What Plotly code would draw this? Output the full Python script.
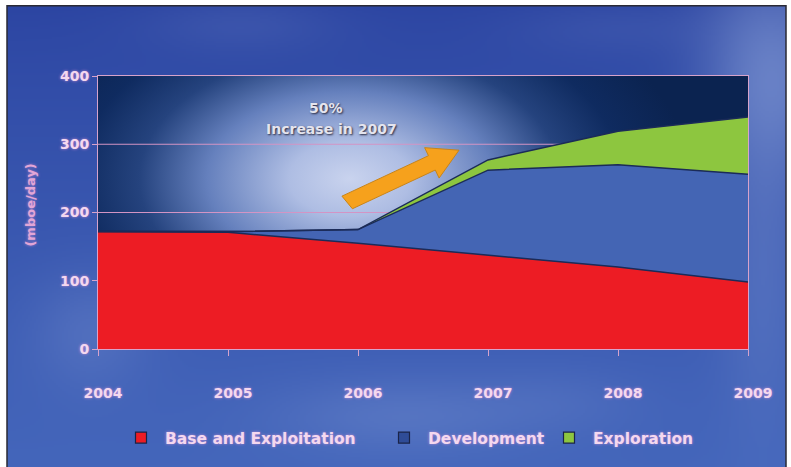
import base64
import struct
import zlib

import numpy as np
import plotly.graph_objects as go

# ---- data (mboe/day) ----
years = [2004, 2005, 2006, 2007, 2008, 2009]
year_labels = ["2004", "2005", "2006", "2007", "2008", "2009"]
base_exploitation = [172, 171, 155, 138, 120, 98]
development = [0, 1, 20, 124, 150, 158]
exploration = [0, 0, 0, 15, 49, 84]
y_ticks = [0, 100, 200, 300, 400]

series_names = ["Base and Exploitation", "Development", "Exploration"]
series_colors = ["#ed1c24", "#4465b4", "#8dc63f"]
swatch_colors = ["#ed1c24", "#2f4c97", "#8dc63f"]

W, H = 791, 467
ML, MR, MT, MB = 98, 43, 76, 115
PW, PH = W - ML - MR, H - MT - MB
X_RANGE = [2004, 2009]
Y_RANGE = [0, 400]


def px_to_paper(px, py):
    return (px - ML) / PW, (H - MB - py) / PH


# ---- slide background (blue sky with soft clouds) as a small PNG ----
def make_png(rgb):
    h, w, _ = rgb.shape
    raw = b"".join(b"\x00" + rgb[r].tobytes() for r in range(h))

    def chunk(tag, data):
        c = struct.pack(">I", len(data)) + tag + data
        return c + struct.pack(">I", zlib.crc32(tag + data) & 0xFFFFFFFF)

    png = b"\x89PNG\r\n\x1a\n"
    png += chunk(b"IHDR", struct.pack(">IIBBBBB", w, h, 8, 2, 0, 0, 0))
    png += chunk(b"IDAT", zlib.compress(raw, 9))
    png += chunk(b"IEND", b"")
    return "data:image/png;base64," + base64.b64encode(png).decode()


bx0, by0, bx1, by1 = 7, 5, 787, 467
iw, ih = 390, 231
gy, gx = np.mgrid[0:ih, 0:iw].astype(float)
X = bx0 + gx * (bx1 - bx0) / (iw - 1)
Y = by0 + gy * (by1 - by0) / (ih - 1)
top = np.array([0x2c, 0x45, 0xa2], float)
bottom = np.array([0x44, 0x66, 0xbb], float)
t = ((Y - by0) / (by1 - by0))[..., None] ** 0.8
img = top + (bottom - top) * t
cloud = np.array([0x9a, 0xb0, 0xe2], float)
for cx, cy, rx, ry, s in [
    (775, 70, 70, 110, 0.5),
    (765, 260, 45, 160, 0.22),
    (400, 415, 130, 40, 0.22),
    (90, 330, 60, 60, 0.2),
    (240, 22, 100, 30, 0.12),
    (620, 25, 110, 30, 0.1),
    (560, 400, 90, 35, 0.1),
]:
    a = (s * np.exp(-((X - cx) / rx) ** 2 - ((Y - cy) / ry) ** 2))[..., None]
    img = img * (1 - a) + cloud * a
bg_uri = make_png(np.clip(img, 0, 255).astype(np.uint8))

grid_color = "#d394c4"
axis_line = "#d7a3cb"

fig = go.Figure()

# dark navy backdrop across the whole plotting area
fig.add_trace(go.Scatter(
    x=[X_RANGE[0], X_RANGE[1], X_RANGE[1], X_RANGE[0], X_RANGE[0]],
    y=[Y_RANGE[0], Y_RANGE[0], Y_RANGE[1], Y_RANGE[1], Y_RANGE[0]],
    mode="none", fill="toself", fillcolor="#0b2350",
    hoverinfo="skip", showlegend=False,
))

# glow: radial gradient centred left of the middle
gcx, gcy, grx, gry = 350, 180, 340, 210
gx0, gy0 = 2004 + (gcx - grx - ML) / PW * 5, (H - MB - (gcy + gry)) / PH * 400
gx1, gy1 = 2004 + (gcx + grx - ML) / PW * 5, (H - MB - (gcy - gry)) / PH * 400
fig.add_trace(go.Scatter(
    x=[gx0, gx1, gx1, gx0, gx0], y=[gy0, gy0, gy1, gy1, gy0],
    mode="none", fill="toself",
    fillgradient=dict(
        type="radial",
        colorscale=[[0, "#c9d3ee"], [0.18, "#aebde3"], [0.42, "#6580bd"],
                    [0.62, "#25437e"], [0.8, "#0f2b60"], [1, "#0b2350"]],
    ),
    hoverinfo="skip", showlegend=False,
))

# horizontal gridlines on top of the glow, beneath the data areas
for yv in y_ticks[1:-1]:
    fig.add_trace(go.Scatter(
        x=X_RANGE, y=[yv, yv], mode="lines",
        line=dict(color=grid_color, width=1),
        hoverinfo="skip", showlegend=False,
    ))

# stacked areas
for name, vals, col in zip(series_names, [base_exploitation, development, exploration], series_colors):
    fig.add_trace(go.Scatter(
        x=years, y=vals, name=name, stackgroup="one", mode="lines",
        line=dict(color="#1b2b58", width=1.5), fillcolor=col,
        showlegend=False, hoverinfo="skip",
    ))

# legend entries, each in its own legend box
legend_x = [117, 380, 545]
for i, (name, col) in enumerate(zip(series_names, swatch_colors)):
    fig.add_trace(go.Scatter(
        x=[None], y=[None], mode="markers", name=name,
        marker=dict(symbol="square", size=11, color=col, line=dict(color="#1a2448", width=1.2)),
        legend="legend" if i == 0 else f"legend{i + 1}",
    ))

label_color = "#f4d8ef"
tick_font = dict(family="DejaVu Sans", size=14, color=label_color, weight="bold",
                 shadow="0px 0px 3px rgba(255,160,230,0.7)")

legend_common = dict(
    orientation="h", yanchor="middle", y=px_to_paper(0, 442)[1], xanchor="left",
    bgcolor="rgba(0,0,0,0)", itemwidth=38,
    font=dict(family="DejaVu Sans", size=15.5, color=label_color, weight="bold",
              shadow="0px 0px 3px rgba(255,160,230,0.6)"),
)
legends = {}
for i, lx in enumerate(legend_x):
    key = "legend" if i == 0 else f"legend{i + 1}"
    legends[key] = dict(legend_common, x=px_to_paper(lx, 0)[0])

# block arrow
tx, ty, hx, hy = 349, 203, 459, 151
L = np.hypot(hx - tx, hy - ty)
ux, uy = (hx - tx) / L, (hy - ty) / L
nx, ny = -uy, ux
bxh, byh = hx - ux * 30, hy - uy * 30
pts = [
    (tx + nx * 8, ty + ny * 8), (bxh + nx * 8, byh + ny * 8), (bxh + nx * 17, byh + ny * 17),
    (hx, hy), (bxh - nx * 17, byh - ny * 17), (bxh - nx * 8, byh - ny * 8),
    (tx - nx * 8 - ux * 4, ty - ny * 8 - uy * 4),
]
path = "M " + " L ".join(f"{px_to_paper(a, b)[0]:.4f},{px_to_paper(a, b)[1]:.4f}" for a, b in pts) + " Z"

fx0, fy1 = px_to_paper(bx0, by0)
fx1, fy0 = px_to_paper(bx1 - 1, H + 5)

note_font = dict(family="DejaVu Sans", size=14, color="#e4e4ee", weight="bold",
                 shadow="1px 1px 2px #2a2a40")

fig.update_layout(
    width=W, height=H, autosize=False,
    margin=dict(l=ML, r=MR, t=MT, b=MB, pad=0),
    paper_bgcolor="#ffffff", plot_bgcolor="#0b2350",
    images=[dict(source=bg_uri, xref="paper", yref="paper", x=fx0, y=fy1,
                 sizex=fx1 - fx0, sizey=fy1 - fy0, xanchor="left", yanchor="top",
                 sizing="stretch", layer="below")],
    shapes=[
        dict(type="rect", xref="paper", yref="paper", x0=fx0, x1=fx1, y0=fy0, y1=fy1,
             line=dict(color="#2a2a35", width=1.5), fillcolor="rgba(0,0,0,0)", layer="below"),
        dict(type="path", path=path, xref="paper", yref="paper",
             fillcolor="#f6a11c", line=dict(color="#c98419", width=1), layer="above"),
    ],
    annotations=[
        dict(text="50%", xref="paper", yref="paper", xanchor="center", yanchor="middle",
             x=px_to_paper(326, 0)[0], y=px_to_paper(0, 108)[1], showarrow=False,
             font=note_font),
        dict(text="Increase in 2007", xref="paper", yref="paper", xanchor="center", yanchor="middle",
             x=px_to_paper(331, 0)[0], y=px_to_paper(0, 130)[1], showarrow=False,
             font=note_font),
        dict(text="(mboe/day)", xref="paper", yref="paper", textangle=-90,
             xanchor="center", yanchor="middle",
             x=px_to_paper(31, 0)[0], y=px_to_paper(0, 207)[1], showarrow=False,
             font=dict(family="DejaVu Sans", size=13, color="#e2a6d6", weight="bold",
                       shadow="0px 0px 3px rgba(255,160,230,0.6)")),
    ],
    xaxis=dict(
        range=X_RANGE, tickvals=years, ticktext=year_labels,
        showgrid=False, zeroline=False, showline=True, mirror=True,
        linecolor=axis_line, linewidth=1, ticks="outside", ticklen=6, tickcolor=axis_line,
        tickfont=tick_font, ticklabelstandoff=25, ticklabelshift=5, fixedrange=True,
    ),
    yaxis=dict(
        range=Y_RANGE, tickvals=y_ticks, showgrid=False,
        zeroline=False, showline=True, mirror=True, linecolor=axis_line, linewidth=1,
        ticks="outside", ticklen=5, tickcolor=axis_line, tickfont=tick_font, fixedrange=True,
    ),
    showlegend=True,
    **legends,
)

fig.write_html("out.html")
